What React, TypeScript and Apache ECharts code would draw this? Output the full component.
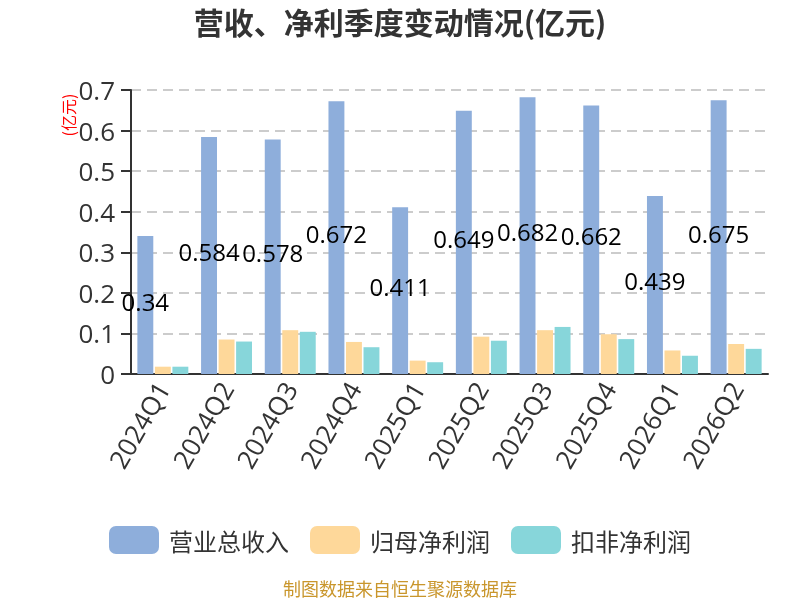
import React, { useEffect, useRef } from "react";
import * as echarts from "echarts";

const categories = ["2024Q1", "2024Q2", "2024Q3", "2024Q4", "2025Q1", "2025Q2", "2025Q3", "2025Q4", "2026Q1", "2026Q2"];
const revenue = [0.34, 0.584, 0.578, 0.672, 0.411, 0.649, 0.682, 0.662, 0.439, 0.675];
const netProfit = [0.018, 0.085, 0.108, 0.079, 0.033, 0.092, 0.108, 0.098, 0.058, 0.074];
const deductedProfit = [0.018, 0.08, 0.104, 0.066, 0.029, 0.082, 0.116, 0.086, 0.045, 0.062];
const seriesNames = ["营业总收入", "归母净利润", "扣非净利润"];
const colors = ["#8eaedb", "#fed89a", "#87d6da"];

export default function App() {
  const ref = useRef<HTMLDivElement>(null);
  useEffect(() => {
    if (!ref.current) return;
    const chart = echarts.init(ref.current, undefined, { renderer: "svg" });
    const font = "Noto Sans CJK SC, Noto Sans, sans-serif";
    const numFont = "Open Sans, Noto Sans, sans-serif";
    chart.setOption({
      animation: false,
      textStyle: { fontFamily: font },
      color: colors,
      title: {
        text: "营收、净利季度变动情况(亿元)",
        left: "center",
        top: 6,
        padding: 0,
        textStyle: { fontSize: 30, fontWeight: "bold", color: "#333", fontFamily: font },
      },
      legend: {
        left: "center",
        top: 521,
        itemWidth: 50,
        itemHeight: 28,
        itemGap: 21,
        textStyle: { fontSize: 24, color: "#333", padding: [0, 0, 0, 5], fontFamily: font },
        data: seriesNames,
      },
      grid: { left: 131, right: 32, top: 90, bottom: 226 },
      xAxis: {
        type: "category",
        data: categories,
        axisLine: { lineStyle: { color: "#333", width: 2 } },
        axisTick: { length: 7, lineStyle: { width: 2 } },
        axisLabel: { rotate: 60, fontSize: 26, color: "#333", margin: 10, interval: 0, fontFamily: numFont },
      },
      yAxis: {
        type: "value",
        min: 0,
        max: 0.7,
        interval: 0.1,
        axisLine: { show: true, lineStyle: { color: "#333", width: 2 } },
        axisTick: { show: true, length: 10, lineStyle: { width: 2 } },
        axisLabel: { fontSize: 26, color: "#333", margin: 16, fontFamily: numFont },
        splitLine: { lineStyle: { type: [10, 6], color: "#ccc", width: 2 } },
      },
      graphic: [
        {
          type: "text",
          x: 68,
          y: 115,
          rotation: Math.PI / 2,
          style: { text: "(亿元)", fill: "#ff0000", fontSize: 16, align: "center", verticalAlign: "middle", fontFamily: font },
        },
        {
          type: "text",
          x: 400,
          y: 588,
          style: { text: "制图数据来自恒生聚源数据库", fill: "#c9962c", fontSize: 18, align: "center", verticalAlign: "middle", fontFamily: font },
        },
      ],
      series: [
        {
          name: seriesNames[0],
          type: "bar",
          data: revenue,
          barGap: "10%",
          barCategoryGap: "20%",
          label: { show: true, position: "inside", offset: [0, -4], color: "#000", fontSize: 24, fontFamily: numFont },
        },
        { name: seriesNames[1], type: "bar", data: netProfit, barGap: "10%", barCategoryGap: "20%" },
        { name: seriesNames[2], type: "bar", data: deductedProfit, barGap: "10%", barCategoryGap: "20%" },
      ],
    });
    return () => chart.dispose();
  }, []);
  return <div ref={ref} style={{ position: "fixed", left: 0, top: 0, width: 800, height: 600 }} />;
}
